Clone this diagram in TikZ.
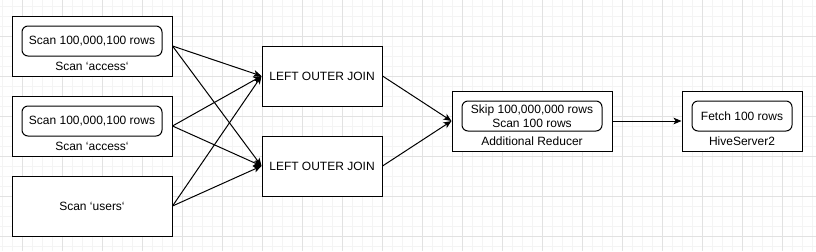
\documentclass[tikz,border=0pt]{standalone}
\usepackage{fontspec}
\setmainfont{Liberation Sans}
\usetikzlibrary{arrows.meta}
\definecolor{gridminor}{HTML}{F4F4F4}
\definecolor{gridmajor}{HTML}{E2E2E2}
\newcommand{\btick}{\symbol{96}}
\begin{document}
\begin{tikzpicture}[x=0.75pt,y=-0.75pt,
  outerbox/.style={draw=black,line width=0.75pt,fill=white,inner sep=0pt},
  innerbox/.style={draw=black,line width=0.75pt,rounded corners=4.5pt,inner sep=0pt,minimum width=105pt,minimum height=22.5pt,align=center,font=\fontsize{9pt}{10.5pt}\selectfont},
  lbl/.style={inner sep=0pt,font=\fontsize{9pt}{10.5pt}\selectfont},
  conn/.style={line width=0.75pt,-{Stealth[length=6pt,width=5pt,inset=1.5pt]}}]
\useasboundingbox (0,0) rectangle (816,251);
\fill[white] (0,0) rectangle (816,251);
% grid
\foreach \x in {2,12,...,812} \draw[gridminor,line width=0.75pt] (\x,0) -- (\x,251);
\foreach \y in {6,16,...,246} \draw[gridminor,line width=0.75pt] (0,\y) -- (816,\y);
\foreach \x in {22,62,...,782} \draw[gridmajor,line width=0.75pt] (\x,0) -- (\x,251);
\foreach \y in {36,76,...,236} \draw[gridmajor,line width=0.75pt] (0,\y) -- (816,\y);
% left scans
\node[outerbox,minimum width=120pt,minimum height=45pt] (s1) at (92,46) {};
\node[innerbox] (s1i) at (92,41) {Scan 100,000,100 rows};
\node[lbl] (s1l) at (92,66.5) {Scan \btick access\btick};
\node[outerbox,minimum width=120pt,minimum height=45pt] (s2) at (92,126) {};
\node[innerbox] (s2i) at (92,121) {Scan 100,000,100 rows};
\node[lbl] (s2l) at (92,146.5) {Scan \btick access\btick};
\node[outerbox,minimum width=120pt,minimum height=45pt,font=\fontsize{9pt}{10.5pt}\selectfont] (s3) at (92,206) {Scan \btick users\btick};
% joins
\node[outerbox,minimum width=90pt,minimum height=45pt,font=\fontsize{9pt}{10.5pt}\selectfont] (j1) at (322,76) {LEFT OUTER JOIN};
\node[outerbox,minimum width=90pt,minimum height=45pt,font=\fontsize{9pt}{10.5pt}\selectfont] (j2) at (322,166) {LEFT OUTER JOIN};
% reducer
\node[outerbox,minimum width=120pt,minimum height=45pt] (r) at (532,121) {};
\node[innerbox] (ri) at (532,116) {Skip 100,000,000 rows\\Scan 100 rows};
\node[lbl] (rl) at (532,141.5) {Additional Reducer};
% hiveserver
\node[outerbox,minimum width=90pt,minimum height=45pt] (h) at (742,121) {};
\node[innerbox,minimum width=75pt] (hi) at (742,116) {Fetch 100 rows};
\node[lbl] (hl) at (742,141.5) {HiveServer2};
% connectors
\foreach \s in {s1,s2,s3} {
  \draw[conn] (\s.east) -- (j1.west);
  \draw[conn] (\s.east) -- (j2.west);
}
\draw[conn] (j1.east) -- (r.west);
\draw[conn] (j2.east) -- (r.west);
\draw[conn] (r.east) -- (h.west);
\end{tikzpicture}
\end{document}
